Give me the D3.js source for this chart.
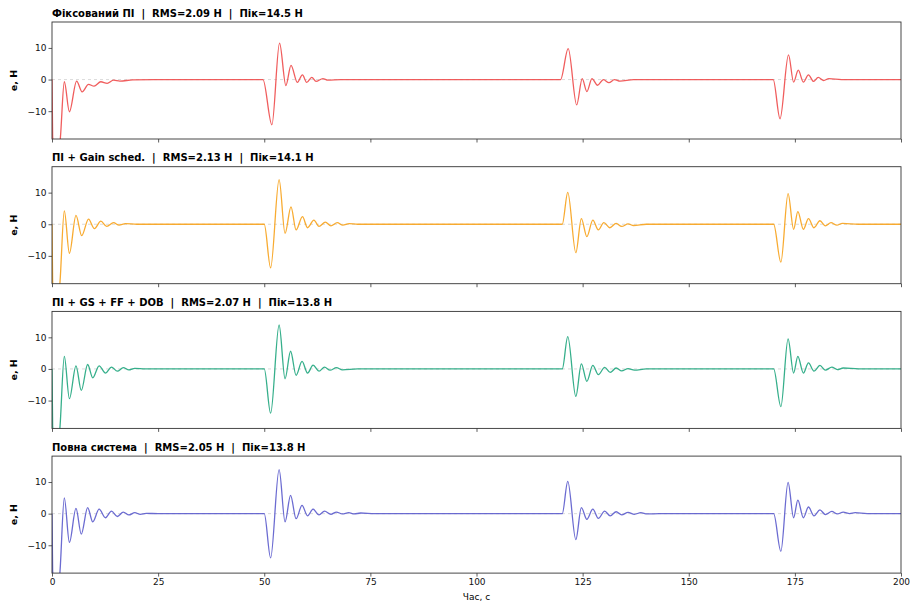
<!DOCTYPE html>
<html>
<head>
<meta charset="utf-8">
<script src="https://cdn.jsdelivr.net/npm/d3@7"></script>
<style>
  body { margin: 0; background: #fff; }
  svg { display: block; }
</style>
</head>
<body>
<script>
// Width and height
var w = 911;
var h = 604;

// tick labels
var xTicks = [0, 25, 50, 75, 100, 125, 150, 175, 200];
var yTicks = [-10, 0, 10];

// panel titles
var titles = [
  "Фіксований ПІ  |  RMS=2.09 Н  |  Пік=14.5 Н",
  "ПІ + Gain sched.  |  RMS=2.13 Н  |  Пік=14.1 Н",
  "ПІ + GS + FF + DOB  |  RMS=2.07 Н  |  Пік=13.8 Н",
  "Повна система  |  RMS=2.05 Н  |  Пік=13.8 Н"
];

// error signals, [t, e]
var fixedPI = [
  [0,0],[0.15,-18],[1.0,-32],[2.0,-18],[2.9,-0.7],[4.1,-10.2],[5.8,-0.5],[7.1,-3.9],[8.6,-1.5],[9.9,-2.1],
  [11.5,-0.7],[13.0,-1.2],[14.5,-0.2],[16.0,-0.5],[19,-0.1],[24,0],
  [49.7,0],[51.8,-14.3],[53.6,11.5],[55.1,-1.9],[56.3,4.5],[57.8,-0.9],[59.0,1.5],[60.0,-0.9],[61.2,0.7],
  [62.2,-0.6],[63.8,0.3],[65.0,-0.2],[68,0],
  [119.8,0],[121.6,9.8],[123.6,-8.0],[124.9,0.3],[126.0,-3.8],[127.2,0.3],[128.5,-1.8],[129.9,0],[131.2,-1.0],
  [132.5,0],[133.8,-0.5],[137,0],
  [169.9,0],[171.5,-12.4],[173.5,7.8],[174.7,-0.8],[175.8,3.0],[177.0,-0.8],[178.2,1.5],[179.4,-0.6],[180.5,0.7],
  [181.8,-0.3],[183,0.3],[186,0],[200,0]
];

var gainSched = [
  [0,0],[0.15,-18],[1.0,-32],[1.9,-18],[2.9,4.2],[4.1,-9.2],[5.65,2.8],[7.0,-3.6],[8.6,1.6],[10.0,-1.4],
  [11.5,1.0],[12.9,-0.7],[14.5,0.5],[15.8,-0.3],[17.3,0.2],[20,0],
  [50,0],[51.5,-13.8],[53.5,14.1],[54.9,-2.9],[56.3,5.5],[57.5,-1.8],[59.0,2.4],[60.2,-1.1],[61.7,1.3],
  [62.9,-0.7],[64.4,0.7],[65.7,-0.5],[67.2,0.5],[68.5,-0.3],[70,0.2],[72,0],
  [120.2,0],[121.5,10.1],[123.4,-9.0],[124.7,1.8],[126.0,-3.9],[127.4,1.3],[128.7,-1.8],[130,0.5],[131.4,-1.1],
  [132.9,0.3],[134.2,-0.7],[135.7,0.1],[137,-0.4],[140,0],
  [170,0],[171.7,-12.0],[173.4,9.7],[174.7,-1.6],[175.7,4.0],[177.0,-1.6],[178.2,1.8],[179.5,-1.1],[180.9,1.1],
  [182.2,-0.5],[183.5,0.5],[184.9,-0.3],[186.2,0.3],[190,0],[200,0]
];

var gsFfDob = [
  [0,0],[0.15,-18],[1.0,-32],[1.9,-18],[2.9,4.0],[4.1,-9.4],[5.65,1.0],[6.9,-6.8],[8.4,1.4],[9.6,-2.8],
  [11.1,1.0],[12.6,-1.3],[14.0,0.6],[15.4,-0.7],[16.8,0.4],[18.1,-0.3],[19.5,0.2],[22,0],
  [50,0],[51.5,-14.0],[53.5,13.9],[54.9,-3.1],[56.2,5.6],[57.5,-2.0],[58.9,2.4],[60.2,-1.3],[61.5,1.2],
  [62.9,-0.7],[64.2,0.6],[65.5,-0.4],[67,0.4],[68.4,-0.3],[72,0],
  [120.2,0],[121.5,10.2],[123.4,-8.7],[124.7,1.6],[126.0,-3.9],[127.4,1.1],[128.7,-1.8],[130.2,0.5],[131.5,-1.1],
  [132.9,0.3],[134.2,-0.6],[135.7,0.1],[137.2,-0.4],[140,0],
  [170,0],[171.7,-11.9],[173.4,9.5],[174.7,-1.3],[175.7,4.0],[177.0,-1.3],[178.2,1.9],[179.5,-0.7],[180.9,1.1],
  [182.2,-0.4],[183.7,0.6],[185,-0.2],[186.4,0.3],[190,0],[200,0]
];

var fullSystem = [
  [0,0],[0.15,-18],[1.0,-32],[1.9,-18],[2.9,5.0],[4.1,-9.1],[5.65,1.7],[6.9,-6.5],[8.4,1.9],[9.6,-2.6],
  [11.1,1.4],[12.6,-1.3],[14.0,0.8],[15.4,-0.9],[16.8,0.5],[18.1,-0.4],[19.5,0.3],[20.8,-0.2],[22.2,0.1],[25,0],
  [50,0],[51.5,-14.0],[53.5,13.9],[54.9,-2.6],[56.2,5.8],[57.5,-1.6],[58.9,2.6],[60.2,-0.7],[61.5,1.4],
  [62.9,-0.4],[64.2,0.8],[65.7,-0.2],[67,0.5],[68.4,-0.1],[69.9,0.3],[71.2,-0.1],[72.7,0.2],[76,0],
  [120.2,0],[121.5,10.2],[123.4,-8.2],[124.7,1.9],[126.0,-1.8],[127.4,1.4],[128.7,-1.5],[130.2,0.8],[131.5,-0.7],
  [132.9,0.6],[134.2,-0.4],[135.7,0.4],[137.2,-0.2],[138.7,0.3],[140.2,-0.1],[143,0],
  [170,0],[171.7,-11.9],[173.4,9.9],[174.7,-1.3],[175.7,4.3],[177.0,-1.3],[178.2,2.1],[179.5,-0.7],[180.9,1.2],
  [182.2,-0.3],[183.7,0.7],[185,-0.1],[186.4,0.5],[187.9,0],[189.2,0.3],[192,0],[200,0]
];

var series = [fixedPI, gainSched, gsFfDob, fullSystem];
var colors = ["#ee4b4b", "#f7a21b", "#20a67e", "#5b5bcc"];

var left = 52, right = 901;
var panelTop = 22, panelH = 117, panelStep = 144.7;

var svg = d3.select("body")
    .append("svg")
    .attr("width", w)
    .attr("height", h);

var x = d3.scaleLinear().domain([0, 200]).range([left, right]);

series.forEach(function(data, i) {
  var top = panelTop + i * panelStep;
  var y = d3.scaleLinear().domain([-18.8, 18.2]).range([top + panelH, top]);

  var g = svg.append("g");

  g.append("clipPath").attr("id", "clip" + i)
    .append("rect")
    .attr("x", left).attr("y", top)
    .attr("width", right - left).attr("height", panelH);

  // faint zero line
  g.append("line")
    .attr("x1", left).attr("x2", right)
    .attr("y1", y(0)).attr("y2", y(0))
    .attr("stroke", "#999")
    .attr("stroke-opacity", 0.5)
    .attr("stroke-width", 0.7)
    .attr("stroke-dasharray", "3,3");

  var line = d3.line()
    .x(function(d) { return x(d[0]); })
    .y(function(d) { return y(d[1]); })
    .curve(d3.curveMonotoneX);

  g.append("path")
    .datum(data)
    .attr("clip-path", "url(#clip" + i + ")")
    .attr("fill", "none")
    .attr("stroke", colors[i])
    .attr("stroke-opacity", 0.9)
    .attr("stroke-width", 1.3)
    .attr("d", line);

  // axes
  var xa = g.append("g")
    .attr("transform", "translate(0," + (top + panelH) + ")")
    .call(d3.axisBottom(x).tickValues(xTicks).tickSize(3.5).tickSizeOuter(0).tickPadding(2));
  if (i < 3) xa.selectAll("text").remove();

  g.append("g")
    .attr("transform", "translate(" + left + ",0)")
    .call(d3.axisLeft(y).tickValues(yTicks).tickSize(3.5).tickSizeOuter(0).tickPadding(2)
      .tickFormat(function(d) { return d < 0 ? "\u2212" + Math.abs(d) : d; }));

  // frame
  g.append("rect")
    .attr("x", left).attr("y", top)
    .attr("width", right - left).attr("height", panelH)
    .attr("fill", "none")
    .attr("stroke", "#333")
    .attr("stroke-width", 0.9);

  g.append("text")
    .attr("x", left)
    .attr("y", top - 5.5)
    .attr("font-family", "DejaVu Sans")
    .attr("font-size", "10px")
    .attr("font-weight", "bold")
    .attr("xml:space", "preserve")
    .style("white-space", "pre")
    .text(titles[i]);

  g.append("text")
    .attr("transform", "translate(17," + (top + panelH / 2) + ") rotate(-90)")
    .attr("text-anchor", "middle")
    .attr("font-family", "DejaVu Sans")
    .attr("font-size", "9.5px")
    .attr("font-weight", "bold")
    .text("e, Н");
});

svg.selectAll(".domain").remove();
svg.selectAll(".tick line").attr("stroke", "#333").attr("stroke-width", 0.8);
svg.selectAll(".tick text")
  .attr("font-family", "DejaVu Sans")
  .attr("font-size", "9px")
  .attr("fill", "#111");

svg.append("text")
  .attr("x", (left + right) / 2)
  .attr("y", 600)
  .attr("text-anchor", "middle")
  .attr("font-family", "DejaVu Sans")
  .attr("font-size", "9px")
  .text("Час, с");
</script>
</body>
</html>
